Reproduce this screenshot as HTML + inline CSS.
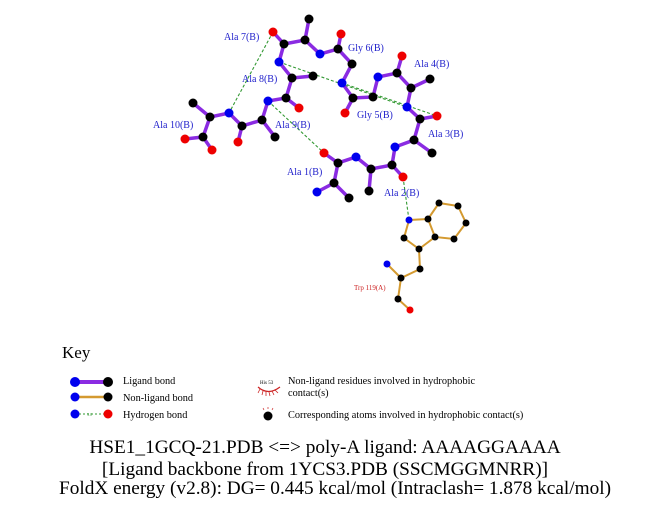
<!DOCTYPE html>
<html><head><meta charset="utf-8"><style>
html,body{margin:0;padding:0;background:#fff;}
svg{display:block;}
.lb{font-family:"Liberation Serif",serif;font-size:10px;fill:#2222cc;}
.k{font-family:"Liberation Serif",serif;font-size:10.3px;fill:#000;}
.t{font-family:"Liberation Serif",serif;font-size:19.3px;fill:#000;}
</style></head><body>
<svg width="651" height="511" viewBox="0 0 651 511" xmlns="http://www.w3.org/2000/svg">
<rect width="651" height="511" fill="#fff"/>
<g stroke="#339933" stroke-width="1.1" stroke-dasharray="3,2" fill="none">
<line x1="273" y1="32" x2="229" y2="113"/>
<line x1="279" y1="62" x2="407" y2="107"/>
<line x1="342" y1="83" x2="437" y2="116"/>
<line x1="268" y1="101" x2="324" y2="153"/>
<line x1="403" y1="177" x2="409" y2="220"/>
</g>
<g stroke="#8a2be2" stroke-width="3.5" stroke-linecap="round" fill="none">
<polyline points="317,192 334,183 338,163 356,157 371,169 392,165 395,147 414,140 420,119 407,107 411,88 397,73 378,77 373,97 353,98 342,83 352,64 338,49 320,54 305,40 284,44 279,62 292,78 286,98 268,101 262,120 242,126 229,113 210,117 203,137 185,139"/>
<line x1="334" y1="183" x2="349" y2="198"/>
<line x1="338" y1="163" x2="324" y2="153"/>
<line x1="371" y1="169" x2="369" y2="191"/>
<line x1="392" y1="165" x2="403" y2="177"/>
<line x1="414" y1="140" x2="432" y2="153"/>
<line x1="420" y1="119" x2="437" y2="116"/>
<line x1="411" y1="88" x2="430" y2="79"/>
<line x1="397" y1="73" x2="402" y2="56"/>
<line x1="353" y1="98" x2="345" y2="113"/>
<line x1="338" y1="49" x2="341" y2="34"/>
<line x1="305" y1="40" x2="309" y2="19"/>
<line x1="284" y1="44" x2="273" y2="32"/>
<line x1="292" y1="78" x2="313" y2="76"/>
<line x1="286" y1="98" x2="299" y2="108"/>
<line x1="262" y1="120" x2="275" y2="137"/>
<line x1="242" y1="126" x2="238" y2="142"/>
<line x1="210" y1="117" x2="193" y2="103"/>
<line x1="203" y1="137" x2="212" y2="150"/>
</g>
<g stroke="#d49a30" stroke-width="2" fill="none">
<polyline points="409,220 428,219 439,203 458,206 466,223 454,239 435,237 428,219"/>
<polyline points="409,220 404,238 419,249 435,237"/>
<polyline points="419,249 420,269 401,278 387,264"/>
<polyline points="401,278 398,299 410,310"/>
</g>
<g fill="#000">
<circle cx="334" cy="183" r="4.5"/><circle cx="349" cy="198" r="4.5"/><circle cx="338" cy="163" r="4.5"/>
<circle cx="371" cy="169" r="4.5"/><circle cx="369" cy="191" r="4.5"/><circle cx="392" cy="165" r="4.5"/>
<circle cx="414" cy="140" r="4.5"/><circle cx="432" cy="153" r="4.5"/><circle cx="420" cy="119" r="4.5"/>
<circle cx="411" cy="88" r="4.5"/><circle cx="430" cy="79" r="4.5"/><circle cx="397" cy="73" r="4.5"/>
<circle cx="373" cy="97" r="4.5"/><circle cx="353" cy="98" r="4.5"/><circle cx="352" cy="64" r="4.5"/>
<circle cx="338" cy="49" r="4.5"/><circle cx="305" cy="40" r="4.5"/><circle cx="309" cy="19" r="4.5"/>
<circle cx="284" cy="44" r="4.5"/><circle cx="292" cy="78" r="4.5"/><circle cx="313" cy="76" r="4.5"/>
<circle cx="286" cy="98" r="4.5"/><circle cx="262" cy="120" r="4.5"/><circle cx="275" cy="137" r="4.5"/>
<circle cx="242" cy="126" r="4.5"/><circle cx="210" cy="117" r="4.5"/><circle cx="193" cy="103" r="4.5"/>
<circle cx="203" cy="137" r="4.5"/>
<circle cx="428" cy="219" r="3.5"/><circle cx="439" cy="203" r="3.5"/><circle cx="458" cy="206" r="3.5"/>
<circle cx="466" cy="223" r="3.5"/><circle cx="454" cy="239" r="3.5"/><circle cx="435" cy="237" r="3.5"/>
<circle cx="419" cy="249" r="3.5"/><circle cx="404" cy="238" r="3.5"/><circle cx="420" cy="269" r="3.5"/>
<circle cx="401" cy="278" r="3.5"/><circle cx="398" cy="299" r="3.5"/>
</g>
<g fill="#0000ee">
<circle cx="317" cy="192" r="4.5"/><circle cx="356" cy="157" r="4.5"/><circle cx="395" cy="147" r="4.5"/>
<circle cx="407" cy="107" r="4.5"/><circle cx="378" cy="77" r="4.5"/><circle cx="342" cy="83" r="4.5"/>
<circle cx="320" cy="54" r="4.5"/><circle cx="279" cy="62" r="4.5"/><circle cx="268" cy="101" r="4.5"/>
<circle cx="229" cy="113" r="4.5"/>
<circle cx="409" cy="220" r="3.5"/><circle cx="387" cy="264" r="3.5"/>
</g>
<g fill="#ee0000">
<circle cx="324" cy="153" r="4.5"/><circle cx="403" cy="177" r="4.5"/><circle cx="437" cy="116" r="4.5"/>
<circle cx="402" cy="56" r="4.5"/><circle cx="345" cy="113" r="4.5"/><circle cx="341" cy="34" r="4.5"/>
<circle cx="273" cy="32" r="4.5"/><circle cx="299" cy="108" r="4.5"/><circle cx="238" cy="142" r="4.5"/>
<circle cx="185" cy="139" r="4.5"/><circle cx="212" cy="150" r="4.5"/>
<circle cx="410" cy="310" r="3.5"/>
</g>
<text class="lb" x="224" y="40">Ala 7(B)</text>
<text class="lb" x="348" y="51">Gly 6(B)</text>
<text class="lb" x="414" y="67">Ala 4(B)</text>
<text class="lb" x="242" y="82">Ala 8(B)</text>
<text class="lb" x="153" y="128">Ala 10(B)</text>
<text class="lb" x="275" y="128">Ala 9(B)</text>
<text class="lb" x="357" y="118">Gly 5(B)</text>
<text class="lb" x="428" y="137">Ala 3(B)</text>
<text class="lb" x="287" y="175">Ala 1(B)</text>
<text class="lb" x="384" y="196">Ala 2(B)</text>
<text x="354" y="290" style="font-family:'Liberation Serif',serif;font-size:7px;fill:#cc2222">Trp 119(A)</text>
<text x="62" y="358" style="font-family:'Liberation Serif',serif;font-size:17px;fill:#000">Key</text>
<line x1="75" y1="382" x2="108" y2="382" stroke="#8a2be2" stroke-width="4"/>
<circle cx="75" cy="382" r="5" fill="#0000ee"/><circle cx="108" cy="382" r="5" fill="#000"/>
<text class="k" x="123" y="384">Ligand bond</text>
<line x1="75" y1="397" x2="108" y2="397" stroke="#d49a30" stroke-width="2.5"/>
<circle cx="75" cy="397" r="4.5" fill="#0000ee"/><circle cx="108" cy="397" r="4.5" fill="#000"/>
<text class="k" x="123" y="401">Non-ligand bond</text>
<line x1="75" y1="414" x2="108" y2="414" stroke="#339933" stroke-width="1" stroke-dasharray="2,2"/>
<circle cx="75" cy="414" r="4.5" fill="#0000ee"/><circle cx="108" cy="414" r="4.5" fill="#ee0000"/>
<text x="87" y="416" style="font-family:'Liberation Serif',serif;font-size:4px;fill:#339933">3.0</text>
<text class="k" x="123" y="418">Hydrogen bond</text>
<text x="260" y="384" style="font-family:'Liberation Serif',serif;font-size:5px;fill:#000">His 53</text>
<path d="M258,387 Q268,396 280,387" stroke="#cc2222" stroke-width="1.2" fill="none"/>
<g stroke="#cc2222" stroke-width="0.8">
<line x1="260" y1="389" x2="258" y2="393"/><line x1="263" y1="391" x2="262" y2="395"/><line x1="266" y1="392" x2="266" y2="396"/>
<line x1="269" y1="392" x2="270" y2="396"/><line x1="272" y1="391" x2="274" y2="395"/><line x1="275" y1="390" x2="278" y2="393"/>
</g>
<text class="k" x="288" y="384">Non-ligand residues involved in hydrophobic</text>
<text class="k" x="288" y="396">contact(s)</text>
<circle cx="268" cy="416" r="4.5" fill="#000"/>
<g stroke="#cc2222" stroke-width="0.7">
<line x1="264" y1="410" x2="263" y2="408"/><line x1="268" y1="409" x2="268" y2="407"/><line x1="272" y1="410" x2="273" y2="408"/>
</g>
<text class="k" x="288" y="418">Corresponding atoms involved in hydrophobic contact(s)</text>
<text class="t" x="325" y="453" text-anchor="middle">HSE1_1GCQ-21.PDB &lt;=&gt; poly-A ligand: AAAAGGAAAA</text>
<text class="t" x="325" y="475" text-anchor="middle">[Ligand backbone from 1YCS3.PDB (SSCMGGMNRR)]</text>
<text class="t" x="335" y="494" text-anchor="middle">FoldX energy (v2.8): DG= 0.445 kcal/mol (Intraclash= 1.878 kcal/mol)</text>
</svg>
</body></html>
